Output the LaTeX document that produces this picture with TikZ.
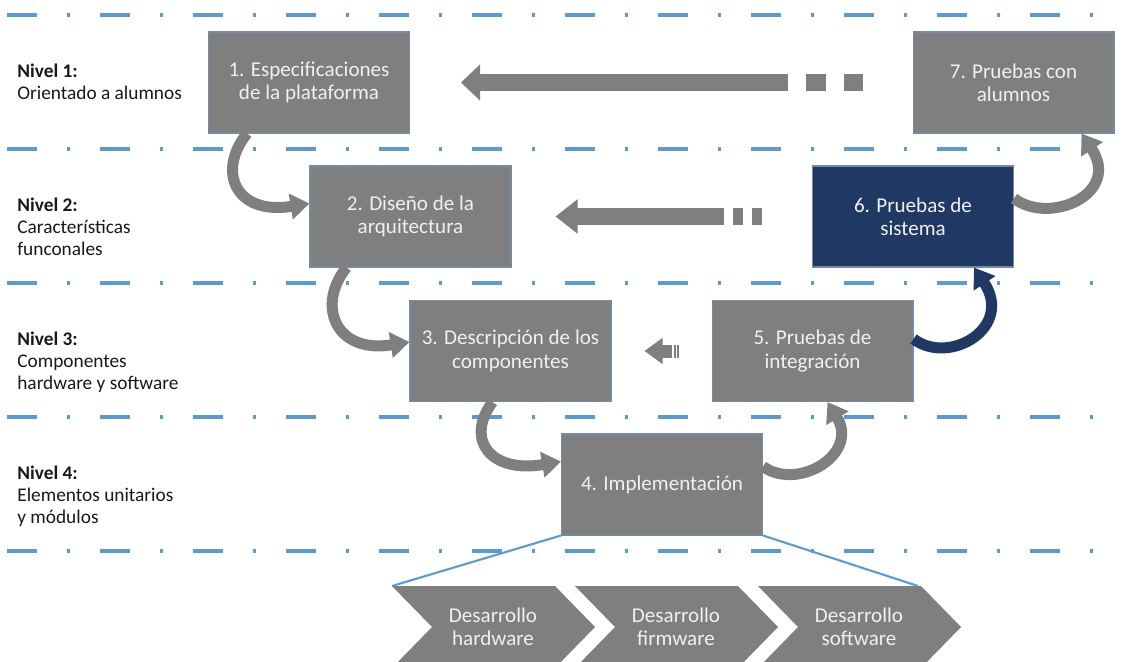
\documentclass[tikz,border=0pt]{standalone}
\usepackage{fontspec}
\setmainfont{Carlito}
\usetikzlibrary{arrows.meta,calc}

\definecolor{stgrey}{RGB}{127,127,127}
\definecolor{stedge}{RGB}{118,138,163}
\definecolor{stlight}{RGB}{240,240,240}
\definecolor{navy}{RGB}{31,56,100}
\definecolor{lvlblue}{RGB}{91,155,213}

\tikzset{
  stage/.style={draw=stedge, line width=0.6pt, fill=stgrey, text=stlight,
    minimum width=4.02cm, minimum height=2.02cm, align=center, inner sep=2pt,
    font=\fontsize{12pt}{13.3pt}\selectfont},
  lvltext/.style={anchor=north west, align=left, inner sep=0pt, text=black!90,
    font=\fontsize{11pt}{12.5pt}\selectfont},
  lvlline/.style={draw=lvlblue, line width=1.9pt,
    dash pattern=on 0.6cm off 0.6cm on 0.06cm off 0.6cm},
  fanline/.style={draw=lvlblue, line width=1.2pt},
  turnarrow/.style={draw=stgrey, line width=0.22cm, -{Triangle[width=0.5cm,length=0.38cm]}},
  retarrow/.style={draw=stgrey, line width=0.34cm, -{Triangle[width=0.7cm,length=0.38cm]}},
  chevtext/.style={text=stlight, align=center, inner sep=0pt,
    font=\fontsize{12pt}{13.3pt}\selectfont},
}

\begin{document}
\begin{tikzpicture}[x=0.02cm,y=-0.02cm]
\clip (0,0) rectangle (1132,662);
% level separators
\foreach \y in {15,149,283,417,551} {
  \draw[lvlline] (7,\y) -- (1112,\y);
}
% level texts
\node[lvltext] (n1) at (17,64)  {\textbf{Nivel 1:}\\Orientado a alumnos};
\node[lvltext] (n2) at (17,198) {\textbf{Nivel 2:}\\Características\\funconales};
\node[lvltext] (n3) at (17,332) {\textbf{Nivel 3:}\\Componentes\\hardware y software};
\node[lvltext] (n4) at (17,466) {\textbf{Nivel 4:}\\Elementos unitarios\\y módulos};

% development chevrons
\foreach \dx/\name/\txt in {0/ch1/{Desarrollo\\hardware},183/ch2/{Desarrollo\\firmware},366/ch3/{Desarrollo\\software}} {
  \fill[stgrey] (392+\dx,586) -- ++(163,0) -- ++(40,41) -- ++(-40,41) -- ++(-163,0) -- ++(40,-41) -- cycle;
  \node[chevtext] (\name) at (493+\dx,627) {\txt};
}
\coordinate (chl) at (392,586);
\coordinate (chr) at (918,586);

% stages
\node[stage] (b1) at (309,82.5)   {1. Especificaciones\\de la plataforma};
\node[stage] (b2) at (410.5,216.5) {2. Diseño de la\\arquitectura};
\node[stage] (b3) at (510.5,351)   {3. Descripción de los\\componentes};
\node[stage] (b4) at (662,484.5)   {4. Implementación};
\node[stage] (b5) at (812.5,351)   {5. Pruebas de\\integración};
\node[stage, fill=navy] (b6) at (913,216.5) {6. Pruebas de\\sistema};
\node[stage] (b7) at (1013.5,82.5) {7. Pruebas con\\alumnos};

\draw[fanline] (b4.south west) -- (chl);
\draw[fanline] (b4.south east) -- (chr);

% going down
\draw[turnarrow] ($(b1.south west)+(39,0)$) .. controls +(-30,37) and +(-75,12) .. ($(b2.west)+(0,-13)$);
\draw[turnarrow] ($(b2.south west)+(37,0)$) .. controls +(-30,37) and +(-75,12) .. ($(b3.west)+(0,-9)$);
\draw[turnarrow] ($(b3.south west)+(83,0)$) .. controls +(-28,38) and +(-70,12) .. ($(b4.west)+(0,-23)$);
% going up
\draw[turnarrow] ($(b4.east)+(0,-18)$) .. controls +(35,25) and +(32,52) .. ($(b5.south west)+(116,0)$);
\draw[turnarrow, draw=navy] ($(b5.east)+(0,-12)$) .. controls +(36,27) and +(40,60) .. ($(b6.south west)+(162,0)$);
\draw[turnarrow] ($(b6.east)+(0,-18)$) .. controls +(36,27) and +(40,60) .. ($(b7.south west)+(169,0)$);

% feedback arrows
\draw[retarrow] ([xshift=-2.5cm]b7.west) -- ([xshift=1.02cm]b1.east);
\fill[stgrey] (806,74) rectangle (826,91);
\fill[stgrey] (844,74) rectangle (863,91);
\draw[retarrow, -{Triangle[width=0.66cm,length=0.44cm]}] ([xshift=-1.76cm]b6.west) -- ([xshift=0.88cm]b2.east);
\fill[stgrey] (733,208) rectangle (743,225);
\fill[stgrey] (752,208) rectangle (762,225);
\draw[retarrow, line width=0.26cm, -{Triangle[width=0.5cm,length=0.36cm]}] ([xshift=-0.8cm]b5.west) -- ([xshift=0.66cm]b3.east);
\fill[stgrey] (674,344.5) rectangle (675.5,357.5);
\fill[stgrey] (677,344.5) rectangle (678.5,357.5);
\end{tikzpicture}
\end{document}
